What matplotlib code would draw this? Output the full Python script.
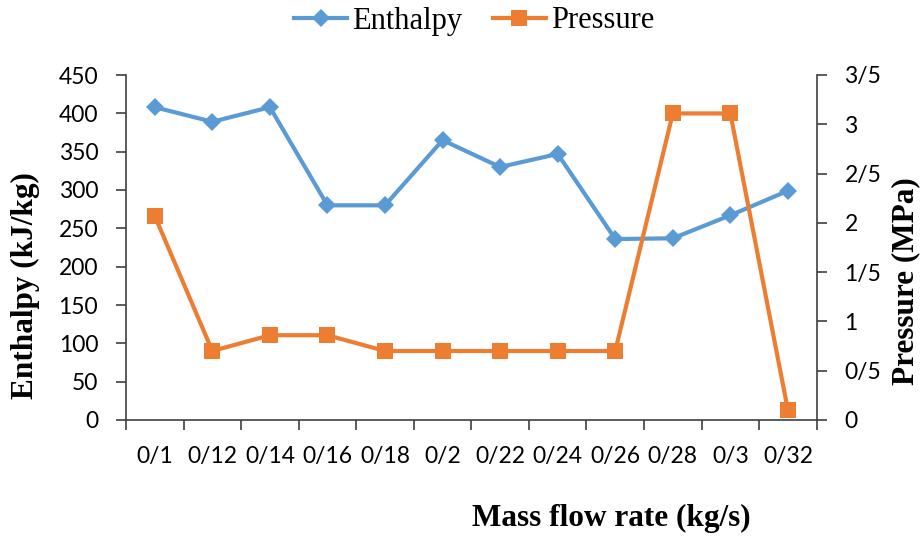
import matplotlib
matplotlib.use("Agg")
import matplotlib.pyplot as plt
from matplotlib.lines import Line2D

# Data: mass flow rate categories (Persian decimal separator "/")
flow_labels = ['0/1', '0/12', '0/14', '0/16', '0/18', '0/2',
               '0/22', '0/24', '0/26', '0/28', '0/3', '0/32']
enthalpy = [408, 389, 408, 280, 280, 365, 330, 347, 236, 237, 267, 299]
pressure = [2.07, 0.70, 0.86, 0.86, 0.70, 0.70, 0.70, 0.70, 0.70, 3.11, 3.11, 0.10]

enthalpy_ticks = [0, 50, 100, 150, 200, 250, 300, 350, 400, 450]
pressure_ticks = [0, 0.5, 1, 1.5, 2, 2.5, 3, 3.5]
pressure_tick_labels = ['0', '0/5', '1', '1/5', '2', '2/5', '3', '3/5']

blue = '#5B9BD5'
orange = '#ED7D31'
axis_col = '#404040'
tick_font = 'Lato'
title_font = 'Liberation Serif'
tick_size = 16.5
line_w = 3.0

fig = plt.figure(figsize=(9.22, 5.39), dpi=100)
ax = fig.add_axes([126 / 922, 1 - 420 / 539, (816.7 - 126) / 922, 345 / 539])
ax2 = ax.twinx()

x = list(range(len(flow_labels)))
ax.plot(x, enthalpy, color=blue, lw=line_w, marker='D', ms=9.5, mew=0,
        clip_on=False, zorder=3)
ax2.plot(x, pressure, color=orange, lw=line_w, marker='s', ms=12, mew=0,
         clip_on=False, zorder=3)

ax.set_xlim(-0.5, len(flow_labels) - 0.5)
ax.set_ylim(0, 450)
ax2.set_ylim(0, 3.5)

# category labels at centers, tick marks at category boundaries
ax.set_xticks(x)
ax.set_xticklabels(flow_labels, fontfamily=tick_font, fontsize=tick_size)
ax.tick_params(axis='x', which='major', length=0, pad=19)
ax.set_xticks([i - 0.5 for i in range(len(flow_labels) + 1)], minor=True)
ax.tick_params(axis='x', which='minor', length=7, width=1.2, color=axis_col,
               direction='out')

ax.set_yticks(enthalpy_ticks)
ax.set_yticklabels([str(v) for v in enthalpy_ticks], fontfamily=tick_font,
                   fontsize=tick_size)
ax.tick_params(axis='y', length=7, width=1.2, color=axis_col, pad=13)

ax2.set_yticks(pressure_ticks)
ax2.set_yticklabels(pressure_tick_labels, fontfamily=tick_font,
                    fontsize=tick_size)
ax2.tick_params(axis='y', length=7, width=1.2, color=axis_col, pad=13)

for a in (ax, ax2):
    a.spines['top'].set_visible(False)
    for s in ('left', 'right', 'bottom'):
        a.spines[s].set_color(axis_col)
        a.spines[s].set_linewidth(1.2)
ax.spines['right'].set_visible(False)
ax2.spines['left'].set_visible(False)
ax2.spines['bottom'].set_visible(False)

# axis titles
fig.text(25 / 922, 1 - 286 / 539, 'Enthalpy (kJ/kg)', rotation=90,
         ha='center', va='center', fontfamily=title_font, fontweight='bold',
         fontsize=22.5)
fig.text(906 / 922, 1 - 281 / 539, 'Pressure (MPa)', rotation=90,
         ha='center', va='center', fontfamily=title_font, fontweight='bold',
         fontsize=22.5)
fig.text(611 / 922, 1 - 518 / 539, 'Mass flow rate (kg/s)',
         ha='center', va='center', fontfamily=title_font, fontweight='bold',
         fontsize=22.5)

handles = [
    Line2D([], [], color=blue, lw=line_w, marker='D', ms=9.5, mew=0),
    Line2D([], [], color=orange, lw=line_w, marker='s', ms=12, mew=0),
]
fig.legend(handles, ['Enthalpy', 'Pressure'], loc='center',
           bbox_to_anchor=(474 / 922, 1 - 21 / 539), ncol=2, frameon=False,
           prop={'family': title_font, 'size': 22}, handlelength=1.75,
           handletextpad=0.15, columnspacing=1.0, borderpad=0)

fig.savefig('out.png', dpi=100)
